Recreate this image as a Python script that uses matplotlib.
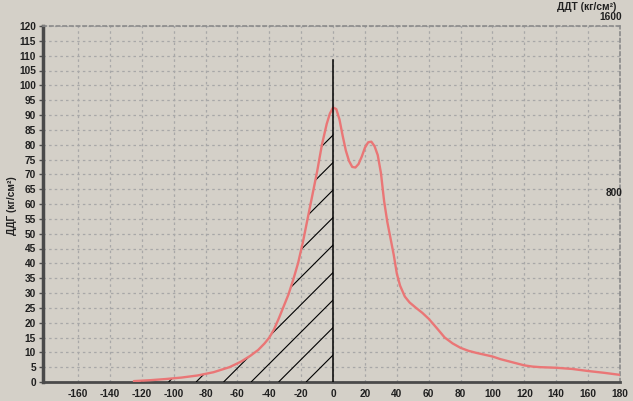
import numpy as np
import matplotlib
matplotlib.use("Agg")
import matplotlib.pyplot as plt
from matplotlib.collections import LineCollection
from matplotlib.patches import PathPatch

# ---- data ----
x_vals = [-125, -115, -105, -95, -85, -75, -65, -58, -52, -47, -43, -40, -37, -34, -31,
          -28, -25, -22, -19, -16, -13, -10, -7, -4, -2, 0, 2, 4, 6, 8, 10, 12, 14, 16,
          18, 20, 22, 24, 26, 28, 30, 32, 34, 36, 38, 40, 42, 45, 48, 52, 56, 60, 65,
          70, 75, 80, 85, 90, 95, 100, 105, 110, 115, 120, 125, 130, 140, 150, 160,
          170, 180]
y_vals = [0.3, 0.6, 1.0, 1.5, 2.2, 3.3, 5.0, 6.8, 8.8, 10.8, 13.0, 15.0, 17.8, 21.5, 25.5,
          29.5, 34.5, 40.0, 47.0, 55.0, 63.0, 71.0, 80.0, 87.0, 90.5, 92.5, 92.0, 88.5, 83.0,
          78.0, 74.5, 72.5, 72.3, 73.5, 76.0, 79.0, 80.8, 81.0, 79.5, 76.5, 70.5, 61.0,
          54.0, 48.5, 43.0, 36.5, 32.5, 28.8, 26.8, 25.0, 23.3, 21.3, 18.2, 15.0, 13.0,
          11.5, 10.5, 9.8, 9.2, 8.6, 7.7, 7.0, 6.3, 5.6, 5.2, 5.0, 4.8, 4.4, 3.7, 3.1, 2.4]
x_ticks = list(range(-160, 181, 20))
y_ticks = list(range(0, 121, 5))
right_labels = ["800", "1600"]
marker_x = 0
marker_top = 108.5

left_label = "ДДГ (кг/см²)"
right_title = "ДДТ (кг/см²)"

BG = "#d4d0c8"
plt.rcParams["font.family"] = ["Liberation Sans", "DejaVu Sans"]
plt.rcParams["font.weight"] = "bold"

W, H = 633, 401
fig = plt.figure(figsize=(W / 100, H / 100), dpi=100, facecolor=BG)
ax_l, ax_b, ax_w, ax_h = 43, 19, 577, 356
ax = fig.add_axes([ax_l / W, ax_b / H, ax_w / W, ax_h / H], facecolor=BG)

ax.set_xlim(-182, 180)
ax.set_ylim(0, 120)
ax.set_xticks(x_ticks)
ax.set_yticks(y_ticks)
ax.set_xticklabels([str(t) for t in x_ticks], fontsize=7.3, fontweight="bold", color="#202020")
ax.set_yticklabels([str(t) for t in y_ticks], fontsize=7.3, fontweight="bold", color="#202020")
ax.tick_params(axis="y", length=3, width=1, color="#505050", pad=2)
ax.tick_params(axis="x", length=0, pad=5)

ax.grid(True, color="#a8a8a8", linestyle=(0, (2, 2.5)), linewidth=0.9)
ax.set_axisbelow(True)

for s in ["top", "right"]:
    ax.spines[s].set_color("#8a8a8a")
    ax.spines[s].set_linestyle((0, (2, 2)))
    ax.spines[s].set_linewidth(1.2)
ax.spines["left"].set_color("#4a4a4a")
ax.spines["left"].set_linewidth(2.5)
ax.spines["bottom"].set_color("#4a4a4a")
ax.spines["bottom"].set_linewidth(2.0)

xv = np.array(x_vals, dtype=float)
yv = np.array(y_vals, dtype=float)

# hatched region under the curve for x <= 0
mask = xv <= marker_x
poly = ax.fill_between(xv[mask], 0, yv[mask], facecolor="none", edgecolor="none", linewidth=0)
clip_path = poly.get_paths()[0]
clip_patch = PathPatch(clip_path, transform=ax.transData, facecolor="none", edgecolor="none")
ax.add_patch(clip_patch)

# 45-degree (in pixels) hatch lines, spaced ~27.5 px horizontally
spacing = 27.5 / ax_w
slope = ax_w / ax_h
x0_axes = (marker_x + 182) / 362.0
offset = 27.0 / ax_w
segs = []
for k in range(-5, 25):
    xb = x0_axes - offset - k * spacing
    segs.append([(xb, 0.0), (xb + 1.0 / slope, 1.0)])
lc = LineCollection(segs, colors="black", linewidths=0.8, transform=ax.transAxes, zorder=3)
ax.add_collection(lc)
lc.set_clip_path(clip_patch)

# curve
ax.plot(xv, yv, color="#ea7676", linewidth=1.7, zorder=4, solid_capstyle="round")

# vertical marker at 0
ax.plot([marker_x, marker_x], [0, marker_top], color="black", linewidth=1.1, zorder=5)

# labels
fig.text(11.7 / W, 1 - 206 / H, left_label, rotation=90, ha="center", va="center",
         fontsize=7.3, fontweight="bold", color="#202020")
fig.text(587 / W, 1 - 7 / H, right_title, ha="center", va="center",
         fontsize=7.3, fontweight="bold", color="#202020")
fig.text(622 / W, 1 - 17 / H, right_labels[1], ha="right", va="center",
         fontsize=7.3, fontweight="bold", color="#202020")
fig.text(622 / W, 1 - 193 / H, right_labels[0], ha="right", va="center",
         fontsize=7.3, fontweight="bold", color="#202020", zorder=10)

fig.savefig("out.png", dpi=100, facecolor=BG)
